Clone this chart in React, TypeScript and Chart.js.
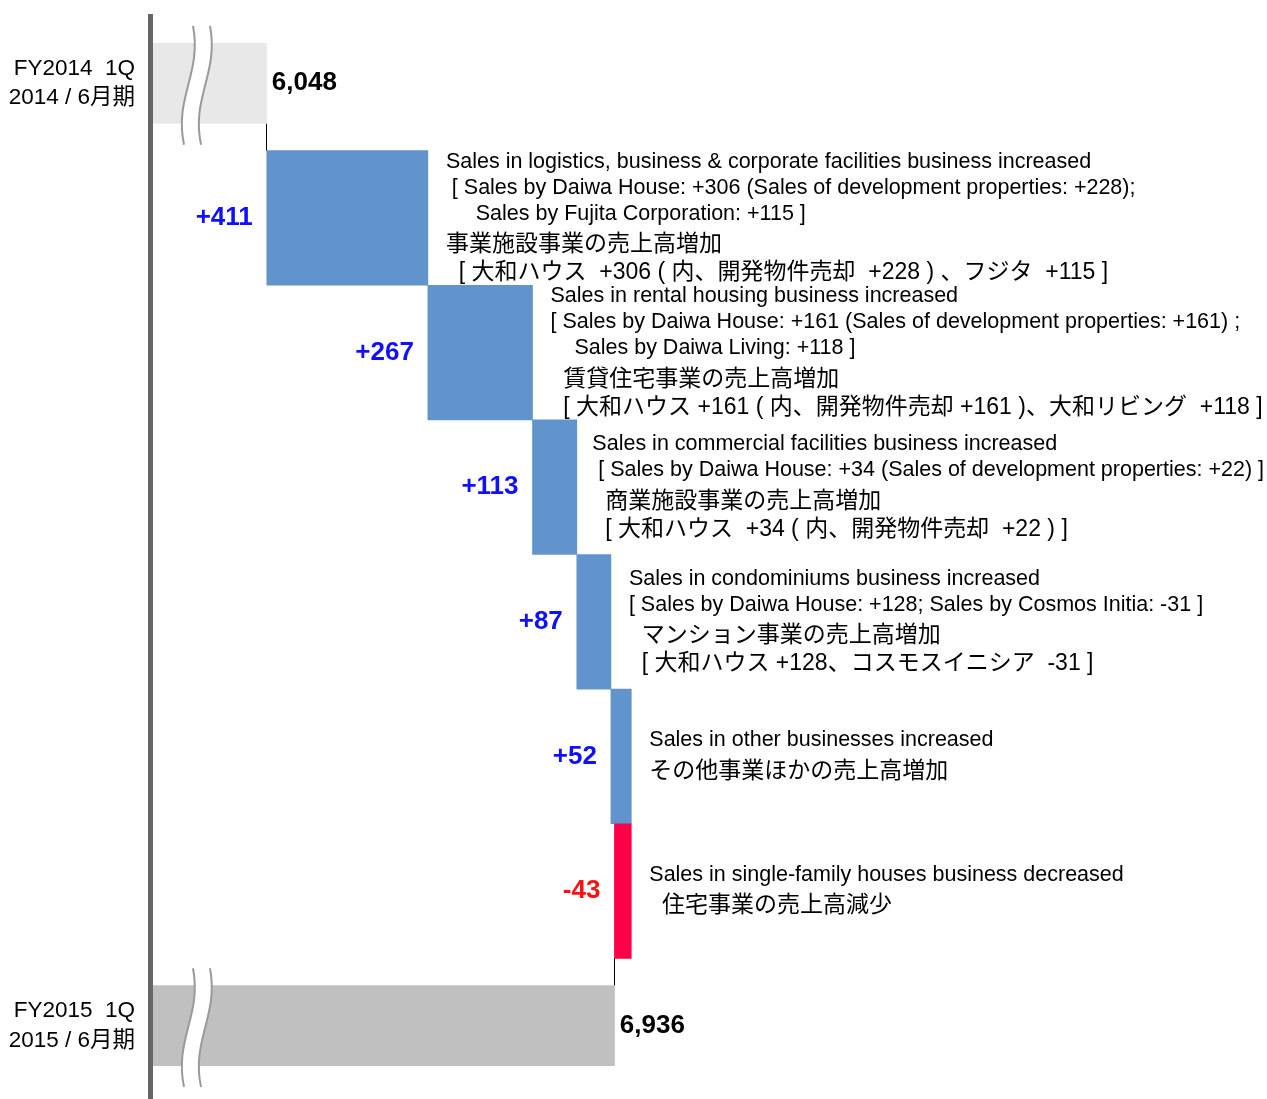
import React, { useEffect, useRef } from "react";
import { Chart, registerables } from "chart.js";

Chart.register(...registerables);

// ---- data ----
const periodLabels: string[][] = [
  ["FY2014  1Q", "2014 / 6月期"],
  ["FY2015  1Q", "2015 / 6月期"],
];
const startTotal = 6048;
const endTotal = 6936;
const changes = [411, 267, 113, 87, 52, -43];

const notesEn: string[][] = [
  [
    "Sales in logistics, business & corporate facilities business increased",
    " [ Sales by Daiwa House: +306 (Sales of development properties: +228);",
    "     Sales by Fujita Corporation: +115 ]",
  ],
  [
    "Sales in rental housing business increased",
    "[ Sales by Daiwa House: +161 (Sales of development properties: +161) ;",
    "    Sales by Daiwa Living: +118 ]",
  ],
  [
    "Sales in commercial facilities business increased",
    " [ Sales by Daiwa House: +34 (Sales of development properties: +22) ]",
  ],
  [
    "Sales in condominiums business increased",
    "[ Sales by Daiwa House: +128; Sales by Cosmos Initia: -31 ]",
  ],
  ["Sales in other businesses increased"],
  ["Sales in single-family houses business decreased"],
];

const notesJa: string[][] = [
  ["事業施設事業の売上高増加", "  [ 大和ハウス  +306 ( 内、開発物件売却  +228 ) 、フジタ  +115 ]"],
  ["  賃貸住宅事業の売上高増加", "  [ 大和ハウス +161 ( 内、開発物件売却 +161 )、大和リビング  +118 ]"],
  ["  商業施設事業の売上高増加", "  [ 大和ハウス  +34 ( 内、開発物件売却  +22 ) ]"],
  ["  マンション事業の売上高増加", "  [ 大和ハウス +128、コスモスイニシア  -31 ]"],
  ["その他事業ほかの売上高増加"],
  ["  住宅事業の売上高減少"],
];

// ---- styles ----
const FONT_LATIN = "'Liberation Sans', Arial, Helvetica, sans-serif";
const FONT_JA = "'Liberation Sans', 'Noto Sans CJK JP', sans-serif";
const BLUE = "#6194CC";
const RED = "#FF0048";

function drawBreak(ctx: CanvasRenderingContext2D, left: number, top: number, bottom: number) {
  const h = bottom - top;
  const sp = 17;
  const x0 = left + 43;
  const x1 = left + 34;
  const curve = (dx: number, reverse: boolean) => {
    if (!reverse) {
      ctx.bezierCurveTo(x0 + 9 + dx, top + h * 0.4, x1 - 10 + dx, top + h * 0.6, x1 + dx, bottom);
    } else {
      ctx.bezierCurveTo(x1 - 10 + dx, top + h * 0.6, x0 + 9 + dx, top + h * 0.4, x0 + dx, top);
    }
  };
  ctx.save();
  ctx.beginPath();
  ctx.moveTo(x0, top);
  curve(0, false);
  ctx.lineTo(x1 + sp, bottom);
  curve(sp, true);
  ctx.closePath();
  ctx.fillStyle = "#ffffff";
  ctx.fill();
  ctx.strokeStyle = "#9a9a9a";
  ctx.lineWidth = 2;
  ctx.beginPath();
  ctx.moveTo(x0, top);
  curve(0, false);
  ctx.stroke();
  ctx.beginPath();
  ctx.moveTo(x0 + sp, top);
  curve(sp, false);
  ctx.stroke();
  ctx.restore();
}

const decorPlugin = {
  id: "waterfallDecor",
  afterDatasetsDraw(chart: any) {
    const { ctx, chartArea } = chart;
    const tMeta = chart.getDatasetMeta(0);
    const dMeta = chart.getDatasetMeta(1);
    const n = changes.length;
    const tot = (i: number) => tMeta.data[i].getProps(["x", "y", "base", "height"], true);
    const del = (i: number) => dMeta.data[i].getProps(["x", "y", "base", "height"], true);

    ctx.save();
    // axis break marks on total bars
    [0, n + 1].forEach((i) => {
      const b = tot(i);
      drawBreak(ctx, chartArea.left, b.y - b.height / 2 - 17, b.y + b.height / 2 + 21);
    });

    // connectors
    ctx.strokeStyle = "#000";
    ctx.lineWidth = 1;
    const first = tot(0);
    const firstDelta = del(1);
    const last = tot(n + 1);
    const lastDelta = del(n);
    ctx.beginPath();
    const xa = Math.round(first.x) - 0.5;
    ctx.moveTo(xa, first.y + first.height / 2);
    ctx.lineTo(xa, firstDelta.y - firstDelta.height / 2);
    const xb = Math.round(last.x) - 0.5;
    ctx.moveTo(xb, lastDelta.y + lastDelta.height / 2);
    ctx.lineTo(xb, last.y - last.height / 2);
    ctx.stroke();

    // total labels
    ctx.font = `bold 26px ${FONT_LATIN}`;
    ctx.fillStyle = "#000";
    ctx.textAlign = "left";
    ctx.textBaseline = "middle";
    ctx.fillText(startTotal.toLocaleString("en-US"), first.x + 5, first.y);
    ctx.fillText(endTotal.toLocaleString("en-US"), last.x + 5, last.y);

    // change labels + notes
    for (let i = 0; i < n; i++) {
      const b = del(i + 1);
      const left = Math.min(b.x, b.base);
      const right = Math.max(b.x, b.base);
      const v = changes[i];
      ctx.font = `bold 26px ${FONT_LATIN}`;
      ctx.fillStyle = v < 0 ? "#FF1010" : "#1010FF";
      ctx.textAlign = "right";
      ctx.fillText((v > 0 ? "+" : "") + v, left - 14, b.y);

      const en = notesEn[i];
      const ja = notesJa[i];
      const EN_LH = 26;
      const JA_LH = 28;
      const GAP = 4;
      const enFont = `21.5px ${FONT_LATIN}`;
      const jaFont = `23px ${FONT_JA}`;
      let maxW = 0;
      ctx.font = enFont;
      en.forEach((s) => (maxW = Math.max(maxW, ctx.measureText(s).width)));
      ctx.font = jaFont;
      ja.forEach((s) => (maxW = Math.max(maxW, ctx.measureText(s).width)));
      const x = Math.max(right + 10, Math.min(right + 18, chartArea.right - maxW - 3));
      const blockH = en.length * EN_LH + GAP + ja.length * JA_LH;
      let y = b.y - blockH / 2;
      ctx.fillStyle = "#000";
      ctx.textAlign = "left";
      ctx.font = enFont;
      en.forEach((s) => {
        ctx.fillText(s, x, y + EN_LH / 2);
        y += EN_LH;
      });
      y += GAP;
      ctx.font = jaFont;
      ja.forEach((s) => {
        ctx.fillText(s, x, y + JA_LH / 2);
        y += JA_LH;
      });
    }
    ctx.restore();
  },
};

export default function App() {
  const ref = useRef<HTMLCanvasElement>(null);
  useEffect(() => {
    const labels: (string | string[])[] = [periodLabels[0], ...changes.map(() => ""), periodLabels[1]];
    let run = startTotal;
    const ranges = changes.map((c) => {
      const r = [run, run + c];
      run += c;
      return r;
    });
    const totals = [startTotal, ...changes.map(() => null), endTotal];
    const deltas = [null, ...ranges, null];
    const chart = new Chart(ref.current as HTMLCanvasElement, {
      type: "bar",
      data: {
        labels,
        datasets: [
          {
            label: "total",
            data: totals as any,
            backgroundColor: (c: any) => (c.dataIndex === 0 ? "#E8E8E8" : "#C0C0C0"),
            barPercentage: 0.6,
            categoryPercentage: 1,
            grouped: false,
          } as any,
          {
            label: "change",
            data: deltas as any,
            backgroundColor: (c: any) => (changes[c.dataIndex - 1] < 0 ? RED : BLUE),
            barPercentage: 1,
            categoryPercentage: 1,
            grouped: false,
          } as any,
        ],
      },
      options: {
        indexAxis: "y",
        animation: false,
        responsive: false,
        maintainAspectRatio: false,
        layout: { padding: { top: 16, bottom: 6, left: 0, right: 0 } },
        plugins: { legend: { display: false }, tooltip: { enabled: false } },
        scales: {
          x: { type: "linear", display: false, min: 5750, max: 8600 },
          y: {
            type: "category",
            grid: { display: false, drawTicks: false, lineWidth: 12 },
            border: { display: true, color: "#666666", width: 5, z: 1 },
            ticks: {
              color: "#000",
              font: { family: FONT_JA, size: 22.5, lineHeight: 1.3 },
              padding: 15,
              autoSkip: false,
            },
            afterFit: (s: any) => {
              s.width = 150;
              s.paddingTop = 0;
              s.paddingBottom = 0;
            },
          } as any,
        },
      },
      plugins: [decorPlugin],
    });
    return () => chart.destroy();
  }, []);
  return (
    <div style={{ position: "absolute", left: 0, top: 0, width: 1267, height: 1099, background: "#fff" }}>
      <canvas ref={ref} width={1267} height={1099} style={{ display: "block" }} />
    </div>
  );
}
